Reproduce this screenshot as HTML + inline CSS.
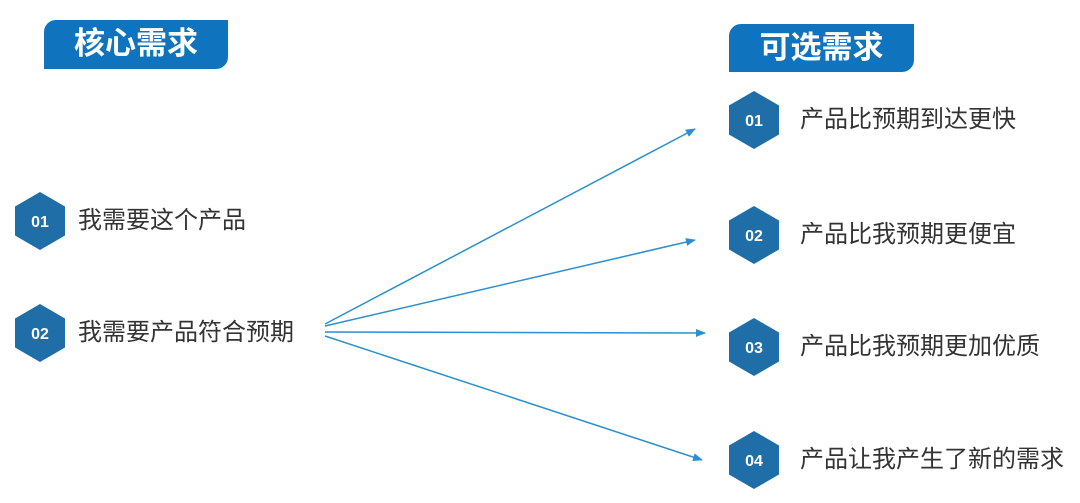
<!DOCTYPE html>
<html><head><meta charset="utf-8"><style>
body{margin:0;width:1080px;height:503px;background:#fff;position:relative;overflow:hidden;font-family:"Liberation Sans","Noto Sans CJK SC",sans-serif}
.tab{position:absolute;background:#0f74bd;color:#fff;font-size:31px;font-weight:bold;text-align:center;border-radius:12px 0 12px 0;line-height:48px}
.t{position:absolute;font-size:24px;color:#333;line-height:30px}
</style></head><body>
<div class="tab" style="left:44px;top:20px;width:184px;height:49px">核心需求</div>
<div class="tab" style="left:729px;top:24px;width:185px;height:48px">可选需求</div>
<svg width="1080" height="503" style="position:absolute;left:0;top:0">
<defs><marker id="a" markerWidth="10" markerHeight="8" refX="9" refY="4" orient="auto" markerUnits="userSpaceOnUse"><path d="M0,0L10,4L0,8z" fill="#2b8fd0"/></marker>
<g id="h"><polygon points="0,-29 25,-14.5 25,14.5 0,29 -25,14.5 -25,-14.5" fill="#1f6ea8"/></g></defs>
<g stroke="#2b8fd0" stroke-width="1.5" marker-end="url(#a)">
<line x1="325" y1="324" x2="695" y2="129"/>
<line x1="325" y1="326" x2="695" y2="240"/>
<line x1="325" y1="332" x2="705" y2="333"/>
<line x1="325" y1="336" x2="702" y2="460"/>
</g>
<g font-family="Liberation Sans" font-weight="bold" font-size="16" fill="#fff" text-anchor="middle">
<use href="#h" x="40" y="221"/><text x="40" y="227">01</text>
<use href="#h" x="40" y="333"/><text x="40" y="339">02</text>
<use href="#h" x="754" y="120"/><text x="754" y="126">01</text>
<use href="#h" x="754" y="235"/><text x="754" y="241">02</text>
<use href="#h" x="754" y="347"/><text x="754" y="353">03</text>
<use href="#h" x="754" y="460"/><text x="754" y="466">04</text>
</g></svg>
<div class="t" style="left:78px;top:206px">我需要这个产品</div>
<div class="t" style="left:78px;top:318px">我需要产品符合预期</div>
<div class="t" style="left:800px;top:105px">产品比预期到达更快</div>
<div class="t" style="left:800px;top:220px">产品比我预期更便宜</div>
<div class="t" style="left:800px;top:332px">产品比我预期更加优质</div>
<div class="t" style="left:800px;top:445px">产品让我产生了新的需求</div>
</body></html>
